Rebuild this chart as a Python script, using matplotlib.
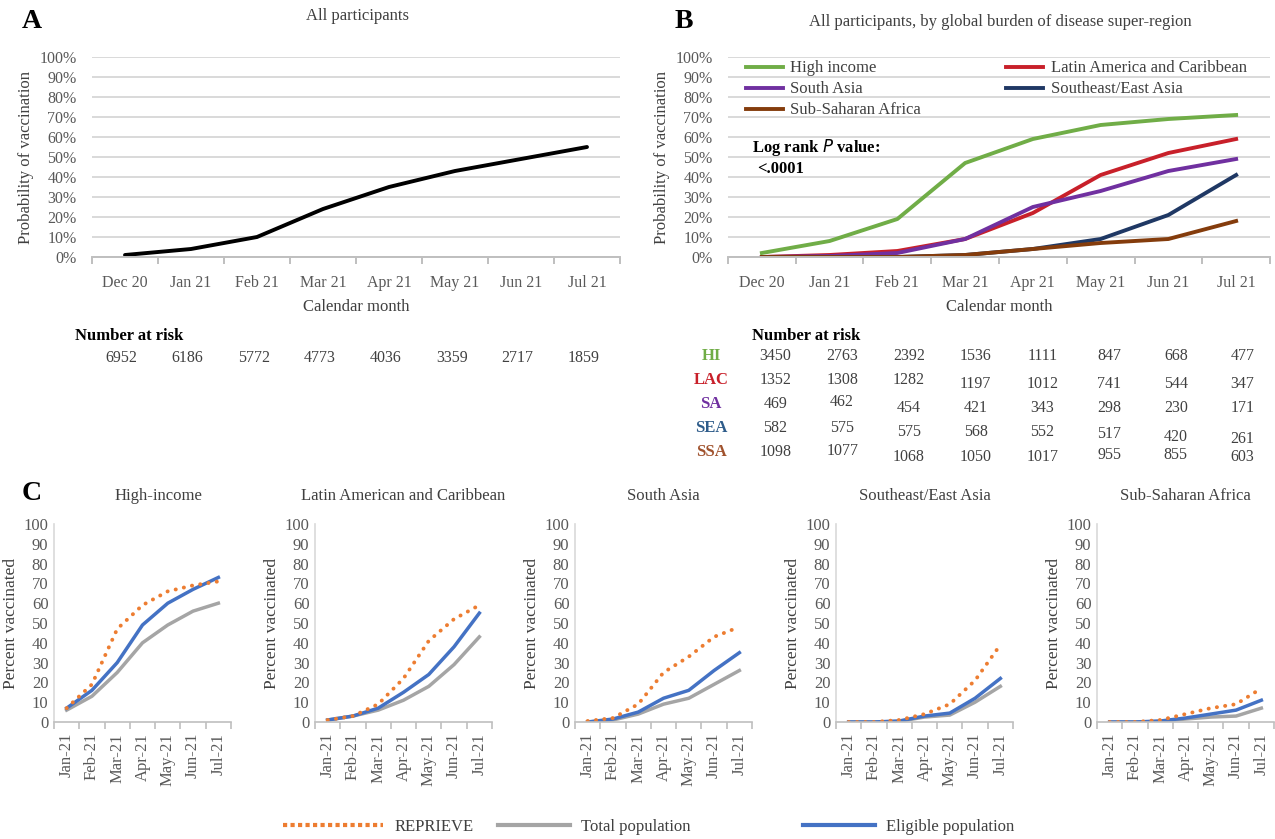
import matplotlib.pyplot as plt
from matplotlib.lines import Line2D
from matplotlib.transforms import blended_transform_factory
import numpy as np

plt.rcParams['font.family'] = ['Liberation Serif', 'DejaVu Serif']

W, H = 1275, 839

# ---- data ----
months = ['Dec 20', 'Jan 21', 'Feb 21', 'Mar 21', 'Apr 21', 'May 21', 'Jun 21', 'Jul 21']
all_prob = [1, 4, 10, 24, 35, 43, 49, 55]
all_risk = [6952, 6186, 5772, 4773, 4036, 3359, 2717, 1859]

regions = ['High income', 'Latin America and Caribbean', 'South Asia',
           'Southeast/East Asia', 'Sub-Saharan Africa']
region_abbr = ['HI', 'LAC', 'SA', 'SEA', 'SSA']
hi_prob = [2, 8, 19, 47, 59, 66, 69, 71]
lac_prob = [0, 1, 3, 9, 22, 41, 52, 59]
sa_prob = [0, 0.5, 2, 9, 25, 33, 43, 49]
sea_prob = [0, 0, 0, 1, 4, 9, 21, 41]
ssa_prob = [0, 0, 0, 1, 4, 7, 9, 18]

hi_risk = [3450, 2763, 2392, 1536, 1111, 847, 668, 477]
lac_risk = [1352, 1308, 1282, 1197, 1012, 741, 544, 347]
sa_risk = [469, 462, 454, 421, 343, 298, 230, 171]
sea_risk = [582, 575, 575, 568, 552, 517, 420, 261]
ssa_risk = [1098, 1077, 1068, 1050, 1017, 955, 855, 603]

c_months = ['Jan-21', 'Feb-21', 'Mar-21', 'Apr-21', 'May-21', 'Jun-21', 'Jul-21']
c_titles = ['High-income', 'Latin American and Caribbean', 'South Asia',
            'Southeast/East Asia', 'Sub-Saharan Africa']
hi_reprieve = [7, 19, 47, 59, 66, 69, 71]
hi_total = [6, 13, 25, 40, 49, 56, 60]
hi_eligible = [7, 16, 30, 49, 60, 67, 73]
lac_reprieve = [1, 3, 9, 22, 41, 52, 59]
lac_total = [1, 3, 6, 11, 18, 29, 43]
lac_eligible = [1, 3, 7, 15, 24, 38, 55]
sa_reprieve = [0.5, 2, 9, 25, 33, 43, 48]
sa_total = [0, 1, 4, 9, 12, 19, 26]
sa_eligible = [0, 1.5, 5, 12, 16, 26, 35]
sea_reprieve = [0, 0, 1, 4, 9, 21, 39]
sea_total = [0, 0, 0.3, 2.5, 3.5, 10, 18]
sea_eligible = [0, 0, 0.5, 3, 4.5, 12, 22]
ssa_reprieve = [0, 0, 1, 4, 7, 9, 17]
ssa_total = [0, 0, 0.3, 1.5, 2.5, 3, 7]
ssa_eligible = [0, 0, 0.5, 2, 4, 6, 11]

# ---- styles ----
region_colors = ['#70AD47', '#C8202A', '#7030A0', '#1F3864', '#843C0C']
abbr_colors = ['#70AD47', '#C8202A', '#7030A0', '#2E5C8A', '#A0522D']
c_orange, c_gray, c_blue = '#ED7D31', '#A5A5A5', '#4472C4'
txt = '#404040'
tick_col = '#595959'
dots = (0, (0.05, 2.1))
# small vertical nudges (px) of the number-at-risk cells in panel B
risk_dy = [[0, 0, 0, 0, 0, 0, 0, 0],
           [0, 0, 0, 4, 4, 4, 4, 4],
           [0, -2, 4, 4, 4, 4, 4, 4],
           [0, 0, 4, 4, 4, 6, 9, 11],
           [0, -1, 5, 5, 5, 3, 3, 5]]

fig = plt.figure(figsize=(W / 100, H / 100), dpi=100)


def px_axes(left, top, right, bottom):
    return fig.add_axes([left / W, 1 - bottom / H, (right - left) / W, (bottom - top) / H])


def km_style(ax):
    ax.set_xlim(-0.5, 7.5)
    ax.set_ylim(0, 100)
    ax.set_yticks(range(0, 101, 10))
    ax.set_yticklabels([f'{v}%' for v in range(0, 101, 10)])
    ax.yaxis.grid(True, color='#D9D9D9', lw=1.4)
    ax.set_axisbelow(True)
    for s in ['top', 'right', 'left']:
        ax.spines[s].set_visible(False)
    ax.spines['bottom'].set_color('#BFBFBF')
    ax.spines['bottom'].set_linewidth(1.4)
    ax.tick_params(axis='y', length=0, labelsize=11.5, labelcolor=tick_col, pad=11)
    ax.set_xticks(range(8))
    ax.set_xticklabels(months)
    ax.set_xticks(np.arange(-0.5, 8, 1), minor=True)
    ax.tick_params(axis='x', which='major', length=0, pad=13, labelsize=11.5, labelcolor=tick_col)
    ax.tick_params(axis='x', which='minor', length=5, color='#BFBFBF', width=1.4)
    ax.set_ylabel('Probability of vaccination', fontsize=12, color=txt, labelpad=4)
    ax.set_xlabel('Calendar month', fontsize=12, color=txt, labelpad=6)


# ---- panel A ----
axA = px_axes(92, 57, 620, 257)
km_style(axA)
axA.plot(range(8), all_prob, color='black', lw=2.8, solid_capstyle='round')
fig.text(22 / W, 1 - 22 / H, 'A', fontsize=20, fontweight='bold', va='center')
fig.text(357 / W, 1 - 16 / H, 'All participants', fontsize=12, color=txt, ha='center', va='center')
fig.text(75 / W, 1 - 336 / H, 'Number at risk', fontsize=12, fontweight='bold', va='center')
trA = blended_transform_factory(axA.transData, fig.transFigure)
for i, v in enumerate(all_risk):
    fig.text(i - 0.05, 1 - 358 / H, str(v), fontsize=11.5, color=txt, ha='center', va='center',
             transform=trA)

# ---- panel B ----
axB = px_axes(728, 57, 1270, 257)
km_style(axB)
probs = [hi_prob, lac_prob, sa_prob, sea_prob, ssa_prob]
handles = []
for name, p, c in zip(regions, probs, region_colors):
    h, = axB.plot(range(8), p, color=c, lw=2.8, label=name)
    handles.append(h)
leg_kw = dict(loc='upper left', frameon=False, fontsize=12, handlelength=2.2,
              handletextpad=0.45, labelspacing=0.3, labelcolor=txt)
leg1 = axB.legend([handles[0], handles[2], handles[4]], [regions[0], regions[2], regions[4]],
                  bbox_to_anchor=(0.006, 1.058), **leg_kw)
axB.add_artist(leg1)
axB.legend([handles[1], handles[3]], [regions[1], regions[3]],
           bbox_to_anchor=(0.486, 1.058), **leg_kw)
axB.text(0.044, 0.545, r'Log rank $\mathit{P}$ value:', transform=axB.transAxes, fontsize=12,
         fontweight='bold', va='center')
axB.text(0.053, 0.44, '<.0001', transform=axB.transAxes, fontsize=12, fontweight='bold', va='center')
fig.text(675 / W, 1 - 22 / H, 'B', fontsize=20, fontweight='bold', va='center')
fig.text(1000 / W, 1 - 22 / H, 'All participants, by global burden of disease super-region',
         fontsize=12, color=txt, ha='center', va='center')
fig.text(752 / W, 1 - 336 / H, 'Number at risk', fontsize=12, fontweight='bold', va='center')
trB = blended_transform_factory(axB.transData, fig.transFigure)
risks = [hi_risk, lac_risk, sa_risk, sea_risk, ssa_risk]
for r, (ab, rk, c) in enumerate(zip(region_abbr, risks, abbr_colors)):
    ypx = 356 + 24 * r
    fig.text(711 / W, 1 - ypx / H, ab, fontsize=12, fontweight='bold', color=c,
             ha='center', va='center')
    for i, v in enumerate(rk):
        fig.text(i + 0.2 - 0.015 * i, 1 - (ypx + risk_dy[r][i]) / H, str(v), fontsize=11.5,
                 color=txt, ha='center', va='center', transform=trB)

# ---- panel C ----
fig.text(22 / W, 1 - 493 / H, 'C', fontsize=20, fontweight='bold', va='center')
c_series = [(hi_reprieve, hi_total, hi_eligible), (lac_reprieve, lac_total, lac_eligible),
            (sa_reprieve, sa_total, sa_eligible), (sea_reprieve, sea_total, sea_eligible),
            (ssa_reprieve, ssa_total, ssa_eligible)]
lefts = [54, 315, 575, 836, 1097]
for k, (left, title, (rep, tot, eli)) in enumerate(zip(lefts, c_titles, c_series)):
    ax = px_axes(left, 524, left + 177, 722)
    x = range(7)
    ax.plot(x, tot, color=c_gray, lw=2.5)
    ax.plot(x, eli, color=c_blue, lw=2.5)
    ax.plot(x, rep, color=c_orange, lw=2.8, linestyle=dots, dash_capstyle='round')
    ax.set_xlim(-0.5, 6.5)
    ax.set_ylim(0, 100)
    ax.set_yticks(range(0, 101, 10))
    ax.tick_params(axis='y', length=0, labelsize=12, labelcolor=tick_col, pad=4)
    ax.set_xticks(range(7))
    ax.set_xticklabels(c_months, rotation=90)
    ax.set_xticks(np.arange(-0.5, 7, 1), minor=True)
    ax.tick_params(axis='x', which='major', length=0, pad=8, labelsize=12, labelcolor=tick_col)
    ax.tick_params(axis='x', which='minor', length=5, color='#BFBFBF', width=1.2)
    for s in ['top', 'right']:
        ax.spines[s].set_visible(False)
    ax.spines['left'].set_color('#D9D9D9')
    ax.spines['bottom'].set_color('#BFBFBF')
    ax.spines['left'].set_linewidth(1.2)
    ax.spines['bottom'].set_linewidth(1.2)
    ax.set_ylabel('Percent vaccinated', fontsize=12.5, color=txt, labelpad=3)
    ax.text(0.5 + (0.09 if k == 0 else 0), 1 + 28 / 198, title, transform=ax.transAxes,
            fontsize=12, color=txt, ha='center', va='center')

# bottom legend
leg_items = [('REPRIEVE', c_orange, (0, (1, 0.8)), 284, 6.0),
             ('Total population', c_gray, '-', 499, 4.3),
             ('Eligible population', c_blue, '-', 804, 4.3)]
for label, c, ls, xpx, hl in leg_items:
    h = Line2D([], [], color=c, lw=3, linestyle=ls, dash_capstyle='butt')
    fig.legend([h], [label], loc='center left', bbox_to_anchor=(xpx / W - 0.006, 1 - 827 / H),
               frameon=False, fontsize=12, handlelength=hl, handletextpad=0.7, labelcolor=txt,
               borderaxespad=0)

fig.savefig('out.png', dpi=100)
